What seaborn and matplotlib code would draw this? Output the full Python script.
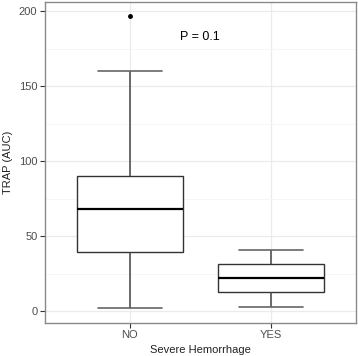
import pandas as pd
import matplotlib
matplotlib.use('Agg')
import matplotlib.pyplot as plt
from matplotlib.ticker import MultipleLocator
import seaborn as sns

# --- data ---
groups = ['NO', 'YES']
trap_no = [2.4, 25, 39.5, 55, 68, 80, 90, 160, 197]
trap_yes = [3.1, 12.7, 22.2, 31.3, 41]
p_label = 'P = 0.1'

df = pd.DataFrame({
    'Severe Hemorrhage': ['NO'] * len(trap_no) + ['YES'] * len(trap_yes),
    'TRAP (AUC)': trap_no + trap_yes,
})

sns.set_style('white')
plt.rcParams['font.family'] = ['Liberation Sans', 'DejaVu Sans']

fig = plt.figure(figsize=(3.58, 3.56), dpi=100)
ax = fig.add_axes([45 / 358, (356 - 322.7) / 356, (355.7 - 45) / 358, (322.7 - 2) / 356])

dark = '#333333'
sns.boxplot(data=df, x='Severe Hemorrhage', y='TRAP (AUC)', order=groups, ax=ax,
            width=0.75, color='white', linecolor=dark, linewidth=1.0,
            whis=1.5, fliersize=2.5, capwidths=0.45,
            flierprops=dict(marker='o', markerfacecolor='black', markeredgecolor='black'),
            medianprops=dict(color='black', linewidth=1.6),
            capprops=dict(color='#666666', linewidth=1.2),
            whiskerprops=dict(color='#444444', linewidth=1.1))

ax.set_xlim(0.4 - 1, 2.6 - 1)
ax.set_ylim(-7.6, 206.2)
ax.yaxis.set_major_locator(MultipleLocator(50))
ax.yaxis.set_minor_locator(MultipleLocator(25))

ax.grid(True, which='major', color='#EBEBEB', linewidth=0.9)
ax.grid(True, which='minor', axis='y', color='#F5F5F5', linewidth=0.6)
ax.set_axisbelow(True)
for s in ax.spines.values():
    s.set_visible(True)
    s.set_color('#8A8A8A')
    s.set_linewidth(1.0)

ax.tick_params(axis='both', which='major', length=3.5, width=0.8, color=dark,
               labelcolor='#4D4D4D', labelsize=8, pad=2, left=True, bottom=True)
ax.tick_params(axis='both', which='minor', length=0)

ax.set_xlabel('Severe Hemorrhage', fontsize=8, color='#222222', labelpad=3)
ax.set_ylabel('TRAP (AUC)', fontsize=8, color='#222222', labelpad=4)

ax.text(0.5, 183, p_label, ha='center', va='center', fontsize=9, color='black')

fig.savefig('out.png', dpi=100)
